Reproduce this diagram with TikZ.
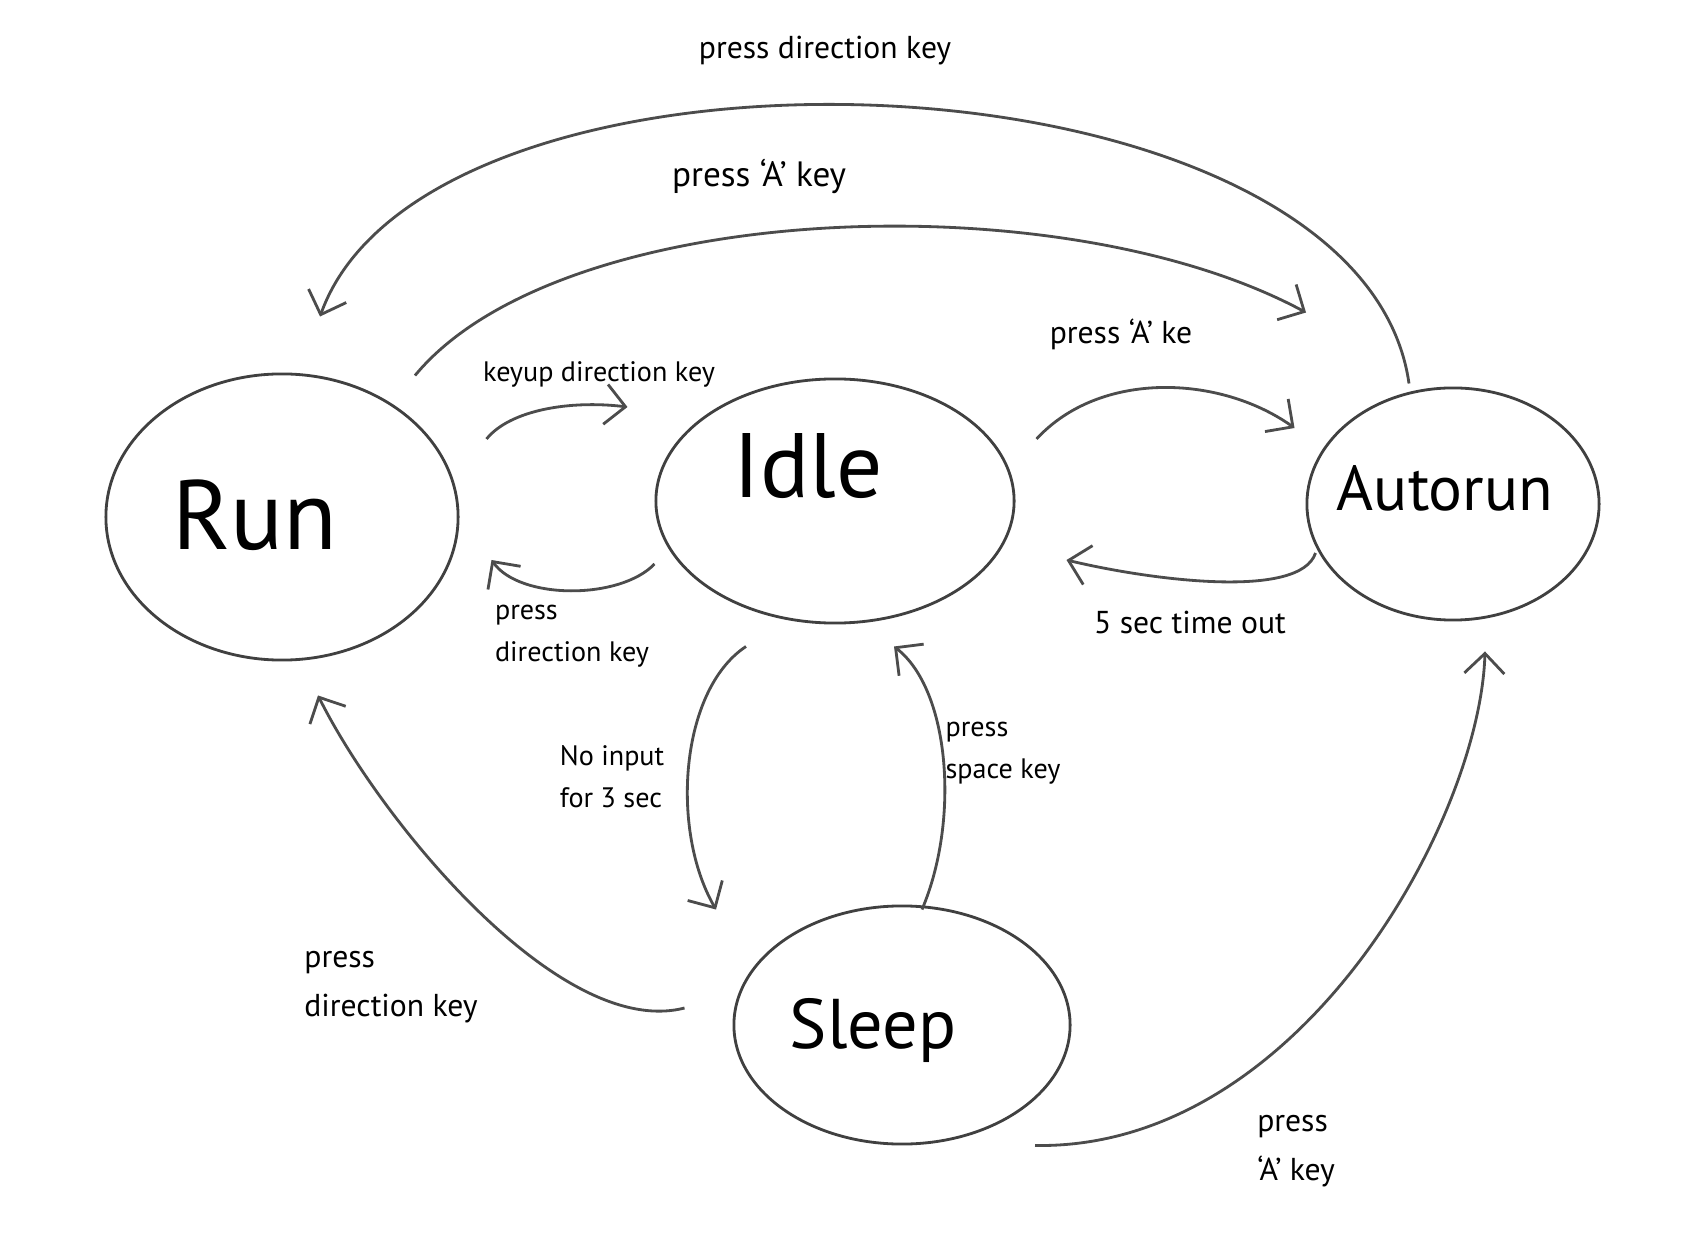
\documentclass[tikz,border=0pt]{standalone}
\usepackage{fontspec}
\setmainfont{PT Sans}
\usetikzlibrary{arrows.meta,shapes.geometric}
\begin{document}
\begin{tikzpicture}[x=0.01cm,y=-0.01cm,
  state/.style={draw=black!75, line width=0.8pt, ellipse, inner sep=0pt},
  conn/.style={draw=black!70, line width=0.8pt, -{Straight Barb[length=2mm,width=4mm]}},
  lbl/.style={font=\fontsize{9}{14}\selectfont, align=left, inner sep=0pt},
  slbl/.style={font=\fontsize{8}{12}\selectfont, align=left, inner sep=0pt}]
\useasboundingbox[fill=white] (0,0) rectangle (1700,1240);

% states
\node[state, minimum width=3.52cm, minimum height=2.86cm,
  label={[font=\fontsize{28}{32}\selectfont, shift={(-27,-2)}]center:Run}] (run) at (282,517) {};
\node[state, minimum width=3.58cm, minimum height=2.44cm,
  label={[font=\fontsize{26}{30}\selectfont, shift={(-27,-35)}]center:Idle}] (idle) at (835,501) {};
\node[state, minimum width=2.92cm, minimum height=2.32cm,
  label={[font=\fontsize{18}{22}\selectfont, shift={(-8,-16)}]center:Autorun}] (auto) at (1453,504) {};
\node[state, minimum width=3.36cm, minimum height=2.38cm,
  label={[font=\fontsize{20}{24}\selectfont, shift={(-29,5)}]center:Sleep}] (sleep) at (902,1025) {};

% connectors
\draw[conn] ([shift={(-44,-3)}]auto.north) .. controls (1360,40) and (430,10) .. ([shift={(38,-56)}]run.north);
\draw[conn] ([shift={(133,3)}]run.north) .. controls (560,200) and (1060,180) .. ([shift={(-147,-74)}]auto.north);
\draw[conn] ([shift={(27,-78)}]run.east) .. controls (510,410) and (570,400) .. ([shift={(-27,-94)}]idle.west);
\draw[conn] ([shift={(0,63)}]idle.west) .. controls (620,600) and (520,600) .. ([shift={(32,43)}]run.east);
\draw[conn] ([shift={(21,-62)}]idle.east) .. controls (1100,370) and (1220,375) .. ([shift={(-11,-76)}]auto.west);
\draw[conn] ([shift={(10,49)}]auto.west) .. controls (1300,600) and (1150,580) .. ([shift={(51,59)}]idle.east);
\draw[conn] ([shift={(-89,22)}]idle.south) .. controls (680,690) and (670,830) .. ([shift={(-186,5)}]sleep.north);
\draw[conn] ([shift={(20,5)}]sleep.north) .. controls (960,820) and (950,690) .. ([shift={(59,22)}]idle.south);
\draw[conn] ([shift={(-48,-17)}]sleep.west) .. controls (560,1040) and (380,820) .. ([shift={(36,34)}]run.south);
\draw[conn] ([shift={(133,0)}]sleep.south) .. controls (1300,1150) and (1480,820) .. ([shift={(32,30)}]auto.south);

% labels
\node[lbl] (l1) at (825,51) {press direction key};
\node[lbl, font=\fontsize{10}{14}\selectfont] (l2) at (759,176) {press `A' key};
\node[slbl] (l3) at (599,374) {keyup direction key};
\node[lbl] (l4) at (1121,334) {press `A' ke};
\node[slbl] (l5) at (572,636) {press\\direction key};
\node[lbl] (l6) at (1190,622) {5 sec time out};
\node[slbl] (l7) at (612,777) {No input\\for 3 sec};
\node[slbl] (l8) at (1003,753) {press\\space key};
\node[lbl] (l9) at (391,987) {press\\direction key};
\node[lbl] (l10) at (1296,1151) {press\\`A' key};
\end{tikzpicture}
\end{document}
